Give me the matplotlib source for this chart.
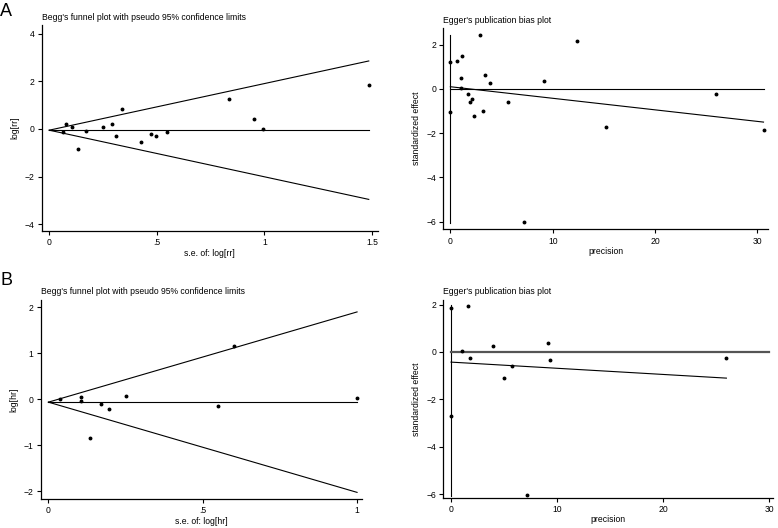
import numpy as np
import matplotlib
matplotlib.use("Agg")
import matplotlib.pyplot as plt

plt.rcParams['font.family'] = ['Liberation Sans', 'DejaVu Sans']

# Panel A - Begg's funnel plot (log rr)
a_se = [0.064, 0.078, 0.104, 0.135, 0.17, 0.25, 0.293, 0.308, 0.339, 0.427,
        0.474, 0.497, 0.546, 0.834, 0.952, 0.995, 1.485]
a_logrr = [-0.13, 0.2, 0.07, -0.84, -0.1, 0.08, 0.2, -0.29, 0.85, -0.53,
           -0.21, -0.28, -0.14, 1.25, 0.43, 0.01, 1.85]
a_pooled = -0.05

# Panel A - Egger's plot
a_prec = [0, 0, 0.65, 1.17, 1.04, 1.0, 2.9, 3.35, 3.9, 1.76, 2.08, 1.95,
          2.31, 3.16, 5.67, 7.17, 9.12, 12.35, 15.18, 25.9, 30.59]
a_std = [1.23, -1.06, 1.25, 1.47, 0.48, 0.02, 2.45, 0.63, 0.25, -0.25, -0.45,
         -0.57, -1.23, -1.02, -0.57, -6.03, 0.37, 2.17, -1.74, -0.25, -1.88]
a_egg_int, a_egg_slope = 0.1, -0.0523
a_ci = [-6.07, 2.45]
a_zero_end = 30.65

# Panel B - Begg's funnel plot (log hr)
b_se = [0.036, 0.106, 0.106, 0.135, 0.172, 0.195, 0.25, 0.549, 0.6, 1.0]
b_loghr = [0.0, 0.05, -0.03, -0.84, -0.09, -0.21, 0.08, -0.14, 1.17, 0.02]
b_pooled = -0.06

# Panel B - Egger's plot
b_prec = [0, 0, 1.0, 1.63, 1.82, 3.93, 5.03, 5.72, 7.16, 9.17, 9.33, 25.98]
b_std = [1.84, -2.7, 0.04, 1.94, -0.25, 0.24, -1.1, -0.58, -6.02, 0.38, -0.35, -0.24]
b_egg_int, b_egg_slope = -0.43, -0.026
b_ci = [-6.07, 2.0]
b_zero_end = 30.0

FS = 6.2
TITLE = "Begg's funnel plot with pseudo 95% confidence limits"

fig = plt.figure(figsize=(7.78, 5.28), dpi=100)


def style(ax):
    for s in ['top', 'right']:
        ax.spines[s].set_visible(False)
    for s in ['left', 'bottom']:
        ax.spines[s].set_linewidth(0.9)
    ax.tick_params(direction='out', length=3.2, width=0.8, labelsize=FS, pad=2)


def funnel(rect, se, est, pooled, xlim, ylim, xticks, xticklabels, yticks, xlabel, ylabel):
    ax = fig.add_axes(rect)
    se = np.array(se)
    s = np.array([0, se.max()])
    ax.plot(s, pooled + 1.96 * s, color='black', lw=0.8)
    ax.plot(s, pooled - 1.96 * s, color='black', lw=0.8)
    ax.plot(s, [pooled, pooled], color='black', lw=0.8)
    ax.plot(se, est, 'o', color='black', ms=1.8)
    ax.set_xlim(xlim)
    ax.set_ylim(ylim)
    ax.set_xticks(xticks)
    ax.set_xticklabels(xticklabels)
    ax.set_yticks(yticks)
    ax.set_xlabel(xlabel, fontsize=FS, labelpad=1)
    ax.set_ylabel(ylabel, fontsize=FS, labelpad=4)
    ax.set_title(TITLE, loc='left', fontsize=FS, pad=4)
    style(ax)
    return ax


def egger(rect, prec, std, b0, b1, ci, zero_end, xlim, ylim, zero_lw, zero_col):
    ax = fig.add_axes(rect)
    prec = np.array(prec)
    p = np.array([0, prec.max()])
    ax.plot([0, 0], ci, color='black', lw=0.8)
    ax.plot([0, zero_end], [0, 0], color=zero_col, lw=zero_lw)
    ax.plot(p, b0 + b1 * p, color='black', lw=0.8)
    ax.plot(prec, std, 'o', color='black', ms=1.8)
    ax.set_xlim(xlim)
    ax.set_ylim(ylim)
    ax.set_xticks([0, 10, 20, 30])
    ax.set_yticks([2, 0, -2, -4, -6])
    ax.set_xlabel('precision', fontsize=FS, labelpad=1)
    ax.set_ylabel('standardized effect', fontsize=FS, labelpad=4)
    ax.set_title("Egger's publication bias plot", loc='left', fontsize=FS, pad=4)
    style(ax)
    return ax


funnel([0.0536, 0.5625, 0.432, 0.390], a_se, a_logrr, a_pooled,
       (-0.035, 1.527), (-4.29, 4.37), [0, 0.5, 1, 1.5], ['0', '.5', '1', '1.5'],
       [-4, -2, 0, 2, 4], 's.e. of: log[rr]', 'log[rr]')
egger([0.5699, 0.5657, 0.4178, 0.381], a_prec, a_std, a_egg_int, a_egg_slope,
      a_ci, a_zero_end, (-0.68, 31.07), (-6.35, 2.75), 0.8, 'black')

funnel([0.0523, 0.0544, 0.4126, 0.3775], b_se, b_loghr, b_pooled,
       (-0.025, 1.015), (-2.17, 2.16), [0, 0.5, 1], ['0', '.5', '1'],
       [-2, -1, 0, 1, 2], 's.e. of: log[hr]', 'log[hr]')
egger([0.5699, 0.0574, 0.424, 0.3744], b_prec, b_std, b_egg_int, b_egg_slope,
      b_ci, b_zero_end, (-0.72, 30.4), (-6.15, 2.19), 1.6, '#555555')

fig.text(0.0, 0.995, 'A', fontsize=13, va='top', ha='left')
fig.text(0.0, 0.485, 'B', fontsize=13, va='top', ha='left')

fig.savefig('out.png', dpi=100, facecolor='white')
